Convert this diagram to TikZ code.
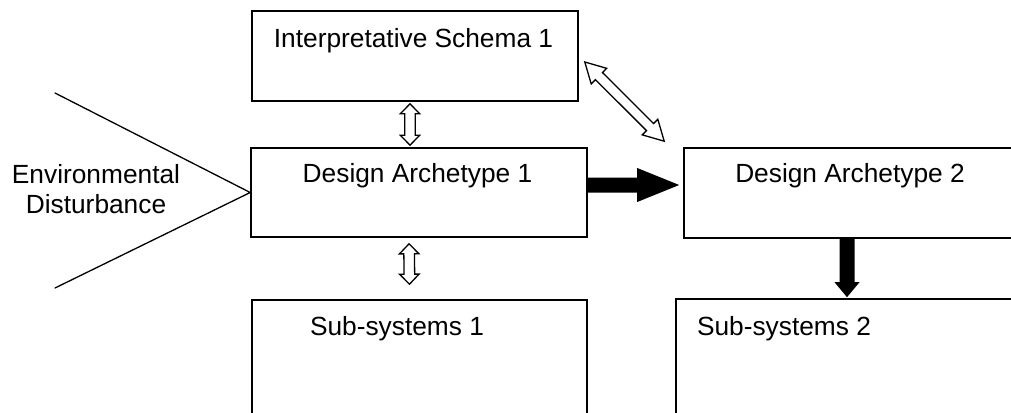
\documentclass[tikz,border=0pt]{standalone}
\usepackage{fontspec}
\setmainfont{Liberation Sans}
\usetikzlibrary{calc}

% hollow double-headed block arrow between two tips
\newcommand{\hollowpair}[5]{% tipA, tipB, head length, head half-width, shaft half-width
  \draw[blockline, fill=white]
    (#1)
    -- ($(#1)!#3!(#2)!#4!90:(#2)$)
    -- ($(#1)!#3!(#2)!#5!90:(#2)$)
    -- ($(#2)!#3!(#1)!#5!-90:(#1)$)
    -- ($(#2)!#3!(#1)!#4!-90:(#1)$)
    -- (#2)
    -- ($(#2)!#3!(#1)!#4!90:(#1)$)
    -- ($(#2)!#3!(#1)!#5!90:(#1)$)
    -- ($(#1)!#3!(#2)!#5!-90:(#2)$)
    -- ($(#1)!#3!(#2)!#4!-90:(#2)$)
    -- cycle;}

% solid single-headed block arrow from a tail to a tip
\newcommand{\fatarrow}[5]{% tail, tip, head length, head half-width, shaft half-width
  \fill[black]
    ($(#1)!#5!90:(#2)$)
    -- ($(#2)!#3!(#1)!#5!-90:(#1)$)
    -- ($(#2)!#3!(#1)!#4!-90:(#1)$)
    -- (#2)
    -- ($(#2)!#3!(#1)!#4!90:(#1)$)
    -- ($(#2)!#3!(#1)!#5!90:(#1)$)
    -- ($(#1)!#5!-90:(#2)$)
    -- cycle;}

\tikzset{
  box/.style={draw=black, line width=1.6pt, rectangle, inner sep=0pt},
  blockline/.style={draw=black, line width=1.3pt, line join=miter},
  lbl/.style={font=\fontsize{26.3}{30}\selectfont, inner sep=0pt, anchor=base},
  ray/.style={line width=1.3pt, line cap=round}
}

\begin{document}
\begin{tikzpicture}[x=1pt, y=-1pt]
\useasboundingbox (0,0) rectangle (1011,412);
\clip (0,0) rectangle (1011,412);

% boxes
\node[box, minimum width=326pt, minimum height=90pt]  (schema) at (415,56) {};
\node[box, minimum width=336pt, minimum height=89pt]  (da1)    at (419,192.5) {};
\node[box, minimum width=356pt, minimum height=90pt]  (da2)    at (862,193) {};
\node[box, minimum width=335pt, minimum height=130pt] (sub1)   at (419.5,365) {};
\node[box, minimum width=364pt, minimum height=130pt] (sub2)   at (858,364) {};

% labels
\node[lbl] (schemaT) at (413.5,48) {Interpretative Schema 1};
\node[lbl] (da1T)    at (417.5,182) {Design Archetype 1};
\node[lbl] (da2T)    at (850,182) {Design Archetype 2};
\node[lbl] (sub1T)   at (397,335) {Sub-systems 1};
\node[lbl] (sub2T)   at (784,335) {Sub-systems 2};
\node[font=\fontsize{26.3}{30}\selectfont, align=center, inner sep=0pt] (env) at (96,189)
  {Environmental\\Disturbance};

% environmental disturbance wedge
\coordinate (apex) at (da1.west);
\coordinate (rayTop) at (55,93);
\coordinate (rayBot) at (55,288);
\draw[ray] (rayTop) -- (apex) -- (rayBot);

% tips of the arrows (canvas y points up, image rows grow downwards)
\coordinate (a1) at ([xshift=-5pt, yshift=-2pt]schema.south);
\coordinate (a2) at ([xshift=-9pt, yshift=2pt]da1.north);
\coordinate (b1) at ([xshift=-10pt, yshift=-6pt]da1.south);
\coordinate (b2) at ([xshift=-10pt, yshift=15pt]sub1.north);
\coordinate (c1) at ([xshift=6pt, yshift=-6pt]schema.east);
\coordinate (c2) at ([xshift=-19pt, yshift=6pt]da2.north west);
\coordinate (d1) at ([yshift=7.5pt]da1.east);
\coordinate (d2) at ([xshift=-4pt, yshift=8pt]da2.west);
\coordinate (e1) at ([xshift=-15pt]da2.south);
\coordinate (e2) at ([xshift=-11pt, yshift=1pt]sub2.north);

% connectors
\hollowpair{a1}{a2}{10pt}{9.7pt}{5.3pt}
\hollowpair{b1}{b2}{10pt}{9.7pt}{5.3pt}
\hollowpair{c1}{c2}{20pt}{11pt}{5pt}
\fatarrow{d1}{d2}{42pt}{17pt}{7.5pt}
\fatarrow{e1}{e2}{15pt}{12.5pt}{7.5pt}
\end{tikzpicture}
\end{document}
